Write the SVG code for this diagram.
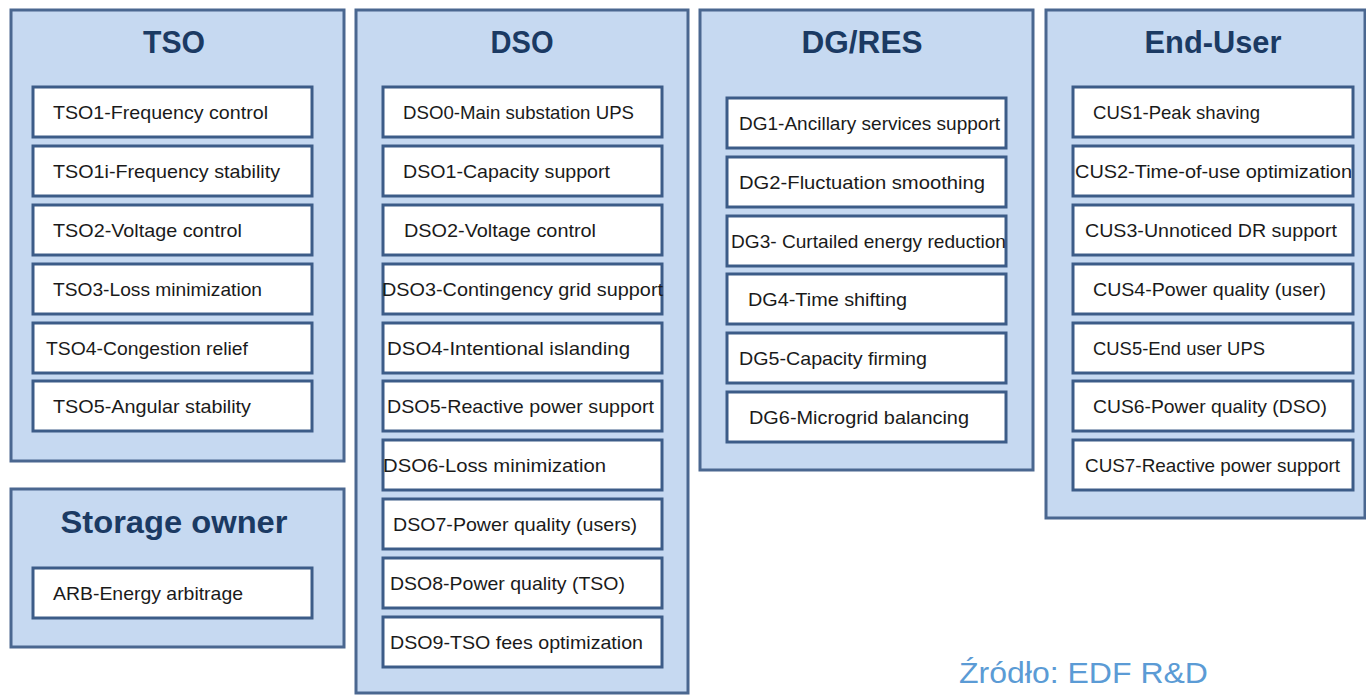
<svg xmlns="http://www.w3.org/2000/svg" width="1366" height="695" viewBox="0 0 1366 695">
<style>
.panel{fill:#c6d9f1;stroke:#4a6790;stroke-width:3}
.item{fill:#ffffff;stroke:#3c5c88;stroke-width:3}
.title{font-family:"Liberation Sans",Arial,sans-serif;font-weight:bold;font-size:32px;fill:#1b3a63;text-anchor:middle}
.lbl{font-family:"Liberation Sans",Arial,sans-serif;font-size:19px;fill:#1a1a1a}
.src{font-family:"Liberation Sans",Arial,sans-serif;font-size:30px;fill:#5b9bd5}
</style>
<rect width="1366" height="695" fill="#ffffff"/>

<g id="tso">
<rect class="panel" x="11" y="10" width="333" height="451"/>
<text class="title" x="174" y="53" textLength="62" lengthAdjust="spacingAndGlyphs">TSO</text>
<g id="tso1"><rect class="item" x="33" y="87" width="279" height="50"/><text class="lbl" x="53" y="119" textLength="215" lengthAdjust="spacingAndGlyphs">TSO1-Frequency control</text></g>
<g id="tso1i"><rect class="item" x="33" y="146" width="279" height="50"/><text class="lbl" x="53" y="178" textLength="227" lengthAdjust="spacingAndGlyphs">TSO1i-Frequency stability</text></g>
<g id="tso2"><rect class="item" x="33" y="205" width="279" height="50"/><text class="lbl" x="53" y="237" textLength="189" lengthAdjust="spacingAndGlyphs">TSO2-Voltage control</text></g>
<g id="tso3"><rect class="item" x="33" y="264" width="279" height="50"/><text class="lbl" x="53" y="296" textLength="209" lengthAdjust="spacingAndGlyphs">TSO3-Loss minimization</text></g>
<g id="tso4"><rect class="item" x="33" y="323" width="279" height="50"/><text class="lbl" x="46" y="355" textLength="202" lengthAdjust="spacingAndGlyphs">TSO4-Congestion relief</text></g>
<g id="tso5"><rect class="item" x="33" y="381" width="279" height="50"/><text class="lbl" x="53" y="413" textLength="198" lengthAdjust="spacingAndGlyphs">TSO5-Angular stability</text></g>
</g>

<g id="storage">
<rect class="panel" x="11" y="489" width="333" height="158"/>
<text class="title" x="174" y="533" textLength="227" lengthAdjust="spacingAndGlyphs">Storage owner</text>
<g id="arb"><rect class="item" x="33" y="568" width="279" height="50"/><text class="lbl" x="53" y="600" textLength="190" lengthAdjust="spacingAndGlyphs">ARB-Energy arbitrage</text></g>
</g>

<g id="dso">
<rect class="panel" x="356" y="10" width="332" height="683"/>
<text class="title" x="522" y="53" textLength="63" lengthAdjust="spacingAndGlyphs">DSO</text>
<g id="dso0"><rect class="item" x="383" y="87" width="279" height="50"/><text class="lbl" x="403" y="119" textLength="231" lengthAdjust="spacingAndGlyphs">DSO0-Main substation UPS</text></g>
<g id="dso1"><rect class="item" x="383" y="146" width="279" height="50"/><text class="lbl" x="403" y="178" textLength="207" lengthAdjust="spacingAndGlyphs">DSO1-Capacity support</text></g>
<g id="dso2"><rect class="item" x="383" y="205" width="279" height="50"/><text class="lbl" x="404" y="237" textLength="192" lengthAdjust="spacingAndGlyphs">DSO2-Voltage control</text></g>
<g id="dso3"><rect class="item" x="383" y="264" width="279" height="50"/><text class="lbl" x="382" y="296" textLength="281" lengthAdjust="spacingAndGlyphs">DSO3-Contingency grid support</text></g>
<g id="dso4"><rect class="item" x="383" y="323" width="279" height="50"/><text class="lbl" x="387" y="355" textLength="243" lengthAdjust="spacingAndGlyphs">DSO4-Intentional islanding</text></g>
<g id="dso5"><rect class="item" x="383" y="381" width="279" height="50"/><text class="lbl" x="387" y="413" textLength="267" lengthAdjust="spacingAndGlyphs">DSO5-Reactive power support</text></g>
<g id="dso6"><rect class="item" x="383" y="440" width="279" height="50"/><text class="lbl" x="383" y="472" textLength="223" lengthAdjust="spacingAndGlyphs">DSO6-Loss minimization</text></g>
<g id="dso7"><rect class="item" x="383" y="499" width="279" height="50"/><text class="lbl" x="393" y="531" textLength="244" lengthAdjust="spacingAndGlyphs">DSO7-Power quality (users)</text></g>
<g id="dso8"><rect class="item" x="383" y="558" width="279" height="50"/><text class="lbl" x="390" y="590" textLength="235" lengthAdjust="spacingAndGlyphs">DSO8-Power quality (TSO)</text></g>
<g id="dso9"><rect class="item" x="383" y="617" width="279" height="50"/><text class="lbl" x="390" y="649" textLength="253" lengthAdjust="spacingAndGlyphs">DSO9-TSO fees optimization</text></g>
</g>

<g id="dg">
<rect class="panel" x="700" y="10" width="333" height="460"/>
<text class="title" x="862" y="53" textLength="121" lengthAdjust="spacingAndGlyphs">DG/RES</text>
<g id="dg1"><rect class="item" x="727" y="98" width="279" height="50"/><text class="lbl" x="739" y="130" textLength="261" lengthAdjust="spacingAndGlyphs">DG1-Ancillary services support</text></g>
<g id="dg2"><rect class="item" x="727" y="157" width="279" height="50"/><text class="lbl" x="739" y="189" textLength="246" lengthAdjust="spacingAndGlyphs">DG2-Fluctuation smoothing</text></g>
<g id="dg3"><rect class="item" x="727" y="216" width="279" height="50"/><text class="lbl" x="731" y="248" textLength="275" lengthAdjust="spacingAndGlyphs">DG3- Curtailed energy reduction</text></g>
<g id="dg4"><rect class="item" x="727" y="274" width="279" height="50"/><text class="lbl" x="748" y="306" textLength="159" lengthAdjust="spacingAndGlyphs">DG4-Time shifting</text></g>
<g id="dg5"><rect class="item" x="727" y="333" width="279" height="50"/><text class="lbl" x="739" y="365" textLength="188" lengthAdjust="spacingAndGlyphs">DG5-Capacity firming</text></g>
<g id="dg6"><rect class="item" x="727" y="392" width="279" height="50"/><text class="lbl" x="749" y="424" textLength="220" lengthAdjust="spacingAndGlyphs">DG6-Microgrid balancing</text></g>
</g>

<g id="enduser">
<rect class="panel" x="1046" y="10" width="319" height="508"/>
<text class="title" x="1213" y="53" textLength="137" lengthAdjust="spacingAndGlyphs">End-User</text>
<g id="cus1"><rect class="item" x="1073" y="87" width="280" height="50"/><text class="lbl" x="1093" y="119" textLength="167" lengthAdjust="spacingAndGlyphs">CUS1-Peak shaving</text></g>
<g id="cus2"><rect class="item" x="1073" y="146" width="280" height="50"/><text class="lbl" x="1075" y="178" textLength="277" lengthAdjust="spacingAndGlyphs">CUS2-Time-of-use optimization</text></g>
<g id="cus3"><rect class="item" x="1073" y="205" width="280" height="50"/><text class="lbl" x="1085" y="237" textLength="252" lengthAdjust="spacingAndGlyphs">CUS3-Unnoticed DR support</text></g>
<g id="cus4"><rect class="item" x="1073" y="264" width="280" height="50"/><text class="lbl" x="1093" y="296" textLength="233" lengthAdjust="spacingAndGlyphs">CUS4-Power quality (user)</text></g>
<g id="cus5"><rect class="item" x="1073" y="323" width="280" height="50"/><text class="lbl" x="1093" y="355" textLength="172" lengthAdjust="spacingAndGlyphs">CUS5-End user UPS</text></g>
<g id="cus6"><rect class="item" x="1073" y="381" width="280" height="50"/><text class="lbl" x="1093" y="413" textLength="234" lengthAdjust="spacingAndGlyphs">CUS6-Power quality (DSO)</text></g>
<g id="cus7"><rect class="item" x="1073" y="440" width="280" height="50"/><text class="lbl" x="1085" y="472" textLength="255" lengthAdjust="spacingAndGlyphs">CUS7-Reactive power support</text></g>
</g>

<g id="connectors"></g>

<text class="src" x="959" y="683" textLength="249" lengthAdjust="spacingAndGlyphs">Źródło: EDF R&amp;D</text>
</svg>
